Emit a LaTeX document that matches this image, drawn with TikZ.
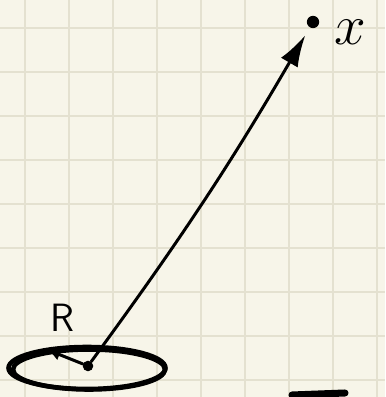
\documentclass[tikz,border=0pt]{standalone}
\usepackage{amsmath}
\usepackage{tikz}
\usetikzlibrary{positioning, arrows.meta}
\definecolor{paper}{RGB}{247,245,233}
\definecolor{gridc}{RGB}{228,225,208}
\tikzset{
  pen/.style={line width=1.7pt, line cap=round, black},
  thickpen/.style={line width=2.6pt, line cap=round, black},
  dot/.style={circle, fill=black, inner sep=0pt, minimum size=7pt}}

\begin{document}
\begin{tikzpicture}
  \useasboundingbox (0,0) rectangle (7.7,7.94);
  \clip (0,0) rectangle (7.7,7.94);
  \fill [paper] (0,0) rectangle (7.7,7.94);
  % grid
  \foreach \i in {0,...,8} \draw [gridc, line width=0.8pt] (0.5+0.88*\i,0) -- (0.5+0.88*\i,7.94);
  \foreach \j in {0,...,8} \draw [gridc, line width=0.8pt] (0,7.38-0.88*\j) -- (7.7,7.38-0.88*\j);
    \node [dot] (x) at (6.26,7.5) {};
    \node [dot, minimum size=6pt] (o) at (1.76,0.62) {};
        \coordinate (r) at (0.96,0.94);
           \coordinate (e) at (1.74,0.58);
     \draw (7.0,7.3) node [scale=1.3, inner sep=0pt] {\Huge $x$};
          \draw (1.24,1.58) node [scale=1.3] {\LARGE\textsf{R}};
     \draw [pen, shorten >=5pt, -{Latex[length=18pt,width=11pt]}] (o) to[bend right=3] (x);
          \draw [pen, -{Latex[length=7pt,width=7pt]}] (o) -- (r);
               \draw [thickpen] (e) ellipse (1.57 and 0.42);
               \draw [thickpen] ([shift={(0.04,-0.03)}]e) ellipse (1.52 and 0.40);
                      \draw [line width=4pt, line cap=round] (5.84,0.04) -- (6.9,0.08);
      \end{tikzpicture}
\end{document}
